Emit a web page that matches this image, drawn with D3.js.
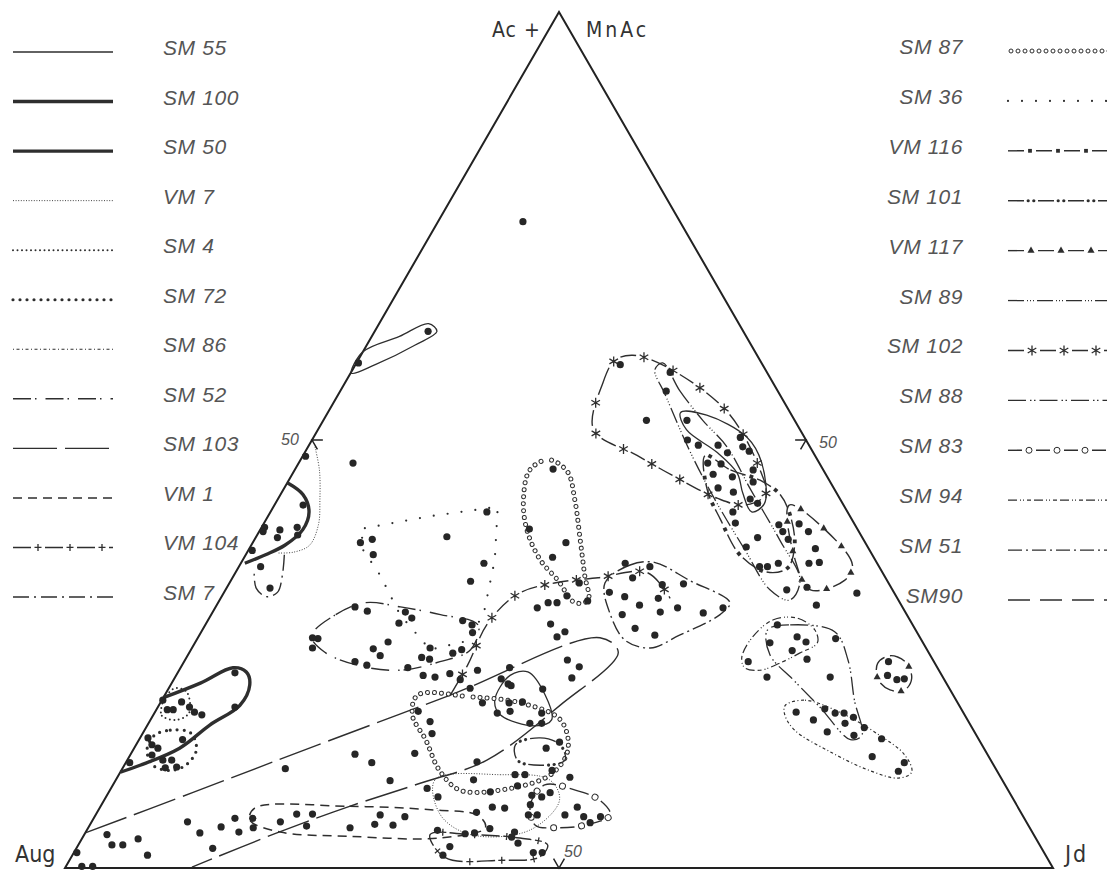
<!DOCTYPE html>
<html>
<head>
<meta charset="utf-8">
<script src="https://cdnjs.cloudflare.com/ajax/libs/d3/7.8.5/d3.min.js"></script>
<style>
  body { margin: 0; background: #fff; }
  text { font-family: "Liberation Sans", Arial, sans-serif; }
</style>
</head>
<body>
<div id="chart"></div>
<script>
var width = 1107,
    height = 871;

// legend, in reading order
var leftSamples = ["SM 55", "SM 100", "SM 50", "VM 7", "SM 4", "SM 72", "SM 86", "SM 52", "SM 103", "VM 1", "VM 104", "SM 7"];
var rightSamples = ["SM 87", "SM 36", "VM 116", "SM 101", "VM 117", "SM 89", "SM 102", "SM 88", "SM 83", "SM 94", "SM 51", "SM90"];

var apexLabel = ["Ac +", "MnAc"];
var leftCorner = "Aug", rightCorner = "Jd";
var tickValue = 50;

// analyses as [Ac+MnAc %, Jd %]  (Aug is the rest)
var analyses = [
  [75.5,8.6],
  [1.8,0.3],[0.2,1.6],[0.2,2.7],[3.9,2.3],[2.7,3.4],[2.7,4.5],[3.4,5.7],[1.5,7.6],
  [5.4,9.7],[4.1,11.6],[2.3,13.8],[4.8,13.4],[5.8,14.3],[4.2,15.5],[5.8,16.1],[4.7,16.7],
  [5.4,19.1],[6.3,20.3],[6.3,21.9],[4.9,22.0],[11.6,16.5],
  [22.8,5.8],[18.8,7.8],[17.9,4.9],[15.0,4.4],[19.6,0.1],[18.5,1.1],[18.5,1.7],[19.4,2.1],[18.8,3.2],[18.2,4.0],
  [15.2,0.8],[14.4,1.6],[13.2,2.2],[12.6,3.6],[12.6,4.5],[11.7,4.3],[11.8,5.4],[12.3,0.4],[14.0,2.4],
  [59.0,0.2],[62.7,5.4],[47.3,5.5],[48.1,0.3],[42.4,2.9],[39.5,2.0],[38.6,2.2],[39.8,3.6],[38.9,4.1],
  [39.8,0.3],[39.3,0.4],[35.2,2.2],[32.7,4.4],[37.1,0.4],
  [38.7,19.3],[38.4,11.9],[38.0,10.9],[36.6,12.9],[41.6,21.9],[35.6,24.6],[33.5,24.3],
  [26.8,12.2],[26.9,11.6],[25.7,12.2],[30.0,15.6],[30.5,14.1],[28.6,19.5],[29.9,19.5],[29.2,20.5],
  [26.4,19.5],[25.6,18.4],[24.8,19.5],[24.1,17.3],[23.7,18.7],[23.4,23.0],[24.6,23.8],[24.4,24.7],
  [25.7,24.1],[22.5,25.0],[22.3,26.3],[22.7,27.6],[25.1,26.7],[25.5,27.4],[28.9,25.8],[28.4,27.0],
  [27.5,27.5],[23.1,30.2],[21.0,30.5],[19.3,32.6],[22.0,29.0],
  [46.6,26.1],[39.6,27.2],[38.0,31.7],[36.3,31.2],[33.3,35.4],[31.2,37.3],[31.0,33.4],[31.0,34.3],
  [30.4,32.6],[31.8,34.9],[28.5,34.9],[27.0,36.3],[27.6,36.8],[24.3,38.7],[23.5,40.3],[23.4,33.3],
  [22.1,33.1],[21.3,34.5],[20.9,37.9],[22.2,40.2],[19.3,35.3],[19.4,36.6],[18.1,34.7],[18.3,35.9],[18.1,39.2],
  [21.5,34.1],[18.3,26.6],[17.1,28.4],[15.7,29.3],[13.3,22.7],[12.3,24.9],[13.4,28.7],[10.2,27.8],
  [9.3,32.0],[16.9,38.6],[16.9,39.8],[12.4,35.5],[10.9,40.1],[10.9,41.1],[10.3,36.2],[8.9,38.6],
  [9.6,41.0],[8.5,43.0],[8.3,44.1],[8.8,44.7],[11.4,43.6],[10.6,45.8],[14.7,42.7],[14.0,41.7],
  [8.3,33.6],[7.1,39.7],[7.0,41.0],[6.5,38.4],[7.4,43.4],[6.2,43.8],[6.2,44.7],[7.1,48.3],
  [6.2,47.5],[6.0,49.5],[6.0,51.2],[5.3,50.5],[6.2,28.8],[5.1,28.8],[5.0,30.7],[6.0,31.4],
  [4.7,26.5],[4.4,35.5],[4.0,38.5],[4.1,39.4],[4.6,40.7],[4.2,43.4],[2.5,37.7],[1.5,37.5],
  [2.9,44.4],[1.8,46.5],[1.8,47.4],[3.6,43.4],
  [58.8,26.8],[57.9,32.3],[55.7,33.0],[52.3,32.7],[52.3,36.8],[50.0,38.0],[49.4,39.4],[49.4,41.4],
  [50.3,43.2],[49.2,44.0],[48.7,44.9],[48.5,42.8],[47.3,41.4],[47.2,42.8],[46.0,42.6],[46.5,46.4],
  [45.1,47.1],[45.7,44.7],[44.4,43.9],[43.9,45.7],[43.1,47.8],[42.6,48.8],[41.6,46.8],[40.3,47.7],
  [38.6,50.8],[40.1,52.2],[39.3,53.0],[38.4,54.0],[40.2,54.2],[39.3,55.6],[37.3,57.3],[35.6,57.5],
  [35.7,58.5],[37.5,50.2],[35.2,52.7],[35.2,53.5],[35.6,54.4],[32.5,56.8],[32.8,58.7],
  [35.6,38.9],[35.2,41.6],[33.9,40.5],[33.1,43.9],[33.2,46.0],[31.5,44.3],[30.4,46.8],[31.7,40.8],
  [32.2,39.0],[29.6,41.6],[30.7,42.8],[29.9,45.3],[27.2,46.1],[28.0,43.7],
  [32.1,64.1],[30.7,60.7],[29.8,49.7],[30.4,51.4],[28.4,57.9],[27.0,60.6],[26.4,61.8],[25.4,60.9],
  [24.4,62.9],[26.3,58.2],[24.1,57.1],[22.3,59.9],[26.8,64.6],[22.3,66.3],[18.2,64.9],[17.3,67.1],
  [18.6,67.6],[18.1,68.9],[18.1,69.8],[16.9,70.5],[15.9,69.2],[17.6,71.0],[15.5,72.1],[16.4,72.7],
  [15.1,75.1],[13.0,75.2],[12.3,78.8],[11.3,78.7],[24.1,71.3],[22.5,72.0],[22.0,73.2],[22.1,73.9]
];

// field outlines, same [Ac+MnAc %, Jd %] pairs
var sm55Upper  = [[60.3,0.0],[62.1,2.8],[63.6,5.0],[62.7,6.3],[61.1,4.9],[58.8,2.0],[57.8,0.1]];
var sm55Right  = [[53.2,35.7],[52.9,38.5],[50.3,43.9],[47.4,46.8],[42.6,49.5],[41.6,48.7],[43.8,46.7],[46.1,45.0],[48.5,41.8],[51.2,37.3]];
var sm55Lower  = [[19.6,33.7],[22.5,33.8],[22.9,35.4],[20.2,38.5],[17.3,40.6],[16.6,39.3],[17.9,35.1]];
var sm100Field = [[19.9,0],[21.6,2.9],[23.4,5.3],[22.9,6.9],[21.4,8.0],[19.0,8.2],[16.7,6.3],[14.0,4.6],[12.0,1.6],[11.2,0]];
var sm50Field  = [[45.0,0],[43.6,2.3],[41.6,3.9],[39.5,4.3],[37.7,3.4],[36.6,2.0],[35.6,0.4]];
var vm7Upper   = [[49.2,0.7],[46.5,2.5],[43.0,4.3],[40.1,5.6],[37.7,5.9],[36.9,4.7],[36.8,3.2]];
var vm7Lower   = [[10.3,32.3],[10.9,38.6],[10.3,43.9],[7.9,46.1],[4.4,44.8],[3.9,39.1],[6.2,34.9]];
var sm7Field   = [[36.6,3.9],[34.2,4.9],[32.2,5.4],[31.7,4.5],[32.7,3.0],[34.5,1.9]];
var sm4Field   = [[19.0,0.3],[17.8,0.9],[17.3,2.6],[18.1,3.5],[20.6,2.0],[21.0,0.6],[20.0,0.2]];
var sm72Field  = [[15.5,1.3],[16.1,2.6],[15.8,4.8],[13.8,6.4],[12.0,6.2],[11.4,4.9],[12.0,2.9],[13.8,1.4]];
var sm103Field = [[4.1,0],[8.8,8.5],[13.6,17.0],[20.2,28.9],[26.9,40.7],[25.2,43.4],[19.0,40.6],[12.6,36.4],[9.9,31.0],[7.2,25.2],[4.1,19.4],[0.1,12.8]];
var vm1Field   = [[7.0,15.7],[7.2,25.2],[6.8,33.6],[6.1,38.8],[4.7,40.2],[3.5,36.2],[3.7,27.0],[4.2,19.7],[5.6,15.9]];
var sm52Field  = [[27.1,11.4],[29.6,12.6],[31.0,14.9],[30.5,18.7],[29.6,23.2],[28.4,27.6],[25.5,28.3],[24.1,25.9],[23.1,22.3],[23.6,18.1],[25.2,13.7]];
var sm36Field  = [[39.7,10.5],[41.1,16.4],[42.2,22.7],[36.0,25.5],[30.1,27.4],[26.6,27.7],[25.5,24.2],[29.6,19.1],[34.2,14.8],[37.7,11.0]];
var sm87Upper  = [[46.5,23.8],[47.7,25.1],[46.3,27.7],[43.0,30.1],[38.3,33.0],[34.2,35.5],[31.3,37.3],[31.0,36.1],[33.6,33.1],[36.0,30.1],[39.5,27.0],[43.0,24.9]];
var sm87Lower  = [[20.2,25.6],[20.0,31.0],[19.3,36.4],[17.3,41.5],[13.8,44.0],[10.9,43.7],[9.1,39.5],[9.1,35.4],[11.4,32.2],[15.0,29.0],[17.9,26.2]];
var sm102Upper = [[51.2,27.9],[56.7,26.1],[59.3,26.0],[59.9,27.5],[58.5,31.7],[53.2,40.5],[46.5,47.1],[43.6,49.1],[42.4,47.6],[43.2,44.4],[45.6,39.1],[48.2,33.8]];
var sm102Lower = [[20.2,28.9],[23.7,28.9],[28.6,28.5],[32.0,29.8],[33.3,32.9],[33.9,37.0],[34.5,41.7],[31.5,45.5]];
var sm89Field  = [[59.0,31.0],[55.8,34.3],[52.3,38.4],[49.2,42.4],[44.2,47.3],[38.3,53.2],[33.6,57.6],[31.3,57.7],[32.5,55.1],[37.1,50.3],[43.0,44.3],[48.8,38.8],[55.3,33.1],[58.2,30.6]];
var vm116Field = [[48.2,40.7],[46.5,44.1],[45.3,47.7],[43.6,50.6],[41.2,52.8],[37.7,55.0],[35.0,55.6],[34.6,53.6],[36.6,50.0],[40.7,46.0],[44.2,42.9]];
var vm117Upper = [[42.4,52.1],[39.5,57.2],[35.4,62.0],[33.6,62.1],[32.5,59.2],[36.0,55.9]];
var vm117Lower = [[23.9,70.3],[24.8,71.1],[24.1,73.0],[22.2,74.6],[20.8,74.6],[20.8,73.1],[22.0,71.3]];
var sm51Field  = [[33.3,38.0],[35.4,39.5],[35.7,41.8],[33.6,46.4],[31.0,51.8],[29.6,51.5],[27.2,48.6],[25.7,46.4],[26.6,43.4],[29.6,40.4]];
var sm94Field  = [[24.6,56.2],[27.0,56.1],[29.0,57.2],[29.2,59.5],[27.8,62.0],[26.3,63.0],[25.1,61.8],[24.1,60.6],[23.1,58.8],[23.4,57.1]];
var sm88Field  = [[27.8,57.2],[28.4,59.2],[27.6,64.1],[24.3,67.1],[19.6,70.1],[15.5,72.9],[15.0,72.0],[18.8,67.0],[22.0,62.7],[24.9,58.9]];
var sm86Field  = [[19.0,63.4],[19.6,65.1],[18.2,69.3],[15.5,74.7],[13.2,78.4],[11.2,80.1],[10.5,79.1],[11.4,75.7],[13.6,70.6],[16.1,65.8],[17.9,63.9]];
var sm83Field  = [[9.7,43.7],[9.1,47.1],[7.9,50.2],[6.2,52.1],[5.0,50.1],[4.7,47.3],[5.0,45.1],[7.4,43.4]];
var vm104Field = [[3.9,35.0],[1.2,37.9],[0.9,43.6],[1.3,47.4],[2.7,47.5],[3.5,44.3],[3.9,39.1]];
var sm101Field = [[14.4,38.4],[15.2,40.5],[14.4,42.9],[12.6,44.3],[12.0,42.1],[12.6,39.5]];

var fields = [
  {s: "SM 103", pts: sm103Field, closed: false},
  {s: "VM 1",   pts: vm1Field,   closed: true},
  {s: "SM 55",  pts: sm55Upper,  closed: true},
  {s: "SM 55",  pts: sm55Right,  closed: true},
  {s: "SM 55",  pts: sm55Lower,  closed: true},
  {s: "SM 100", pts: sm100Field, closed: false},
  {s: "SM 50",  pts: sm50Field,  closed: false},
  {s: "VM 7",   pts: vm7Upper,   closed: false},
  {s: "VM 7",   pts: vm7Lower,   closed: true},
  {s: "SM 7",   pts: sm7Field,   closed: false},
  {s: "SM 4",   pts: sm4Field,   closed: true},
  {s: "SM 72",  pts: sm72Field,  closed: true},
  {s: "SM 52",  pts: sm52Field,  closed: true},
  {s: "SM 36",  pts: sm36Field,  closed: true, straight: true},
  {s: "SM 87",  pts: sm87Upper,  closed: true},
  {s: "SM 87",  pts: sm87Lower,  closed: true},
  {s: "SM 102", pts: sm102Upper, closed: true},
  {s: "SM 102", pts: sm102Lower, closed: false},
  {s: "SM 89",  pts: sm89Field,  closed: true},
  {s: "VM 116", pts: vm116Field, closed: true},
  {s: "VM 117", pts: vm117Upper, closed: true},
  {s: "VM 117", pts: vm117Lower, closed: true},
  {s: "SM 51",  pts: sm51Field,  closed: true},
  {s: "SM 94",  pts: sm94Field,  closed: true},
  {s: "SM 88",  pts: sm88Field,  closed: true},
  {s: "SM 86",  pts: sm86Field,  closed: true},
  {s: "SM 83",  pts: sm83Field,  closed: true},
  {s: "VM 104", pts: vm104Field, closed: true},
  {s: "SM 101", pts: sm101Field, closed: true}
];

// how each sample's outline is drawn
var lineStyle = {
  "SM 55":  {w: 1.3},
  "SM 100": {w: 3.4},
  "SM 50":  {w: 3.4},
  "VM 7":   {w: 0.9, dash: "1 1.6"},
  "SM 4":   {w: 2, dash: "0 4.5", round: true},
  "SM 72":  {w: 3.2, dash: "0 7", round: true},
  "SM 86":  {w: 1.2, dash: "1 2.5 3 2.5"},
  "SM 52":  {w: 1.4, dash: "18 4 1.5 9"},
  "SM 103": {w: 1.4, dash: "44 8"},
  "VM 1":   {w: 1.5, dash: "9 6"},
  "VM 104": {w: 1.4, dash: "18 14", mark: "plus", step: 32, at: 25},
  "SM 7":   {w: 1.4, dash: "16 5 2 5"},
  "SM 87":  {w: 0, mark: "ring", step: 7, at: 3, r: 2},
  "SM 36":  {w: 2.2, dash: "0 14", round: true},
  "VM 116": {w: 1.4, dash: "16 12", mark: "square", step: 28, at: 22},
  "SM 101": {w: 1.4, dash: "16 14", mark: "pair", step: 30, at: 23},
  "VM 117": {w: 1.4, dash: "16 14", mark: "tri", step: 30, at: 23},
  "SM 89":  {w: 1.3, dash: "16 3 1 2 1 2 1 3"},
  "SM 102": {w: 1.4, dash: "16 16", mark: "star", step: 32, at: 24},
  "SM 88":  {w: 1.3, dash: "18 4 1.5 2.5 1.5 4"},
  "SM 83":  {w: 1.4, dash: "14 14", mark: "ring", step: 28, at: 21, r: 3},
  "SM 94":  {w: 1.2, dash: "9 3 1 2 1 3 4 3"},
  "SM 51":  {w: 1.4, dash: "14 4 2 4"},
  "SM90":   {w: 1.5, dash: "22 10"}
};

var ink = "#2e2e2e";

var svg = d3.select("#chart")
  .append("svg")
  .attr("width", width)
  .attr("height", height)
  .style("background", "#fff");

// ternary -> screen : x from Jd + Ac/2, y from Ac
var x = d3.scaleLinear().domain([0, 100]).range([65, 1053]);
var y = d3.scaleLinear().domain([0, 100]).range([868, 12]);
function px(d) { return x(d[1] + d[0] / 2); }
function py(d) { return y(d[0]); }

var tern = d3.line().x(px).y(py);

// triangle
svg.append("path")
  .attr("d", tern([[0, 0], [0, 100], [100, 0]]) + "Z")
  .attr("fill", "none")
  .attr("stroke", "#222")
  .attr("stroke-width", 2);

// 50 % ticks on each side
var ticks = [
  {p: [tickValue, 0], a: [tickValue, 1.1], b: [tickValue - 1.1, 1.1], dx: -22, dy: 5},
  {p: [tickValue, 100 - tickValue], a: [tickValue, 100 - tickValue - 1.1], b: [tickValue - 1.1, 100 - tickValue], dx: 22, dy: 8},
  {p: [0, tickValue], a: [1.1, tickValue - 1.1], b: [1.1, tickValue], dx: 14, dy: -11}
];
ticks.forEach(function(t) {
  svg.append("path")
    .attr("d", tern([t.a, t.p, t.b]))
    .attr("fill", "none")
    .attr("stroke", "#222")
    .attr("stroke-width", 1.5);
  svg.append("text")
    .attr("x", px(t.p) + t.dx)
    .attr("y", py(t.p) + t.dy)
    .attr("text-anchor", "middle")
    .attr("font-size", 16)
    .attr("font-style", "italic")
    .attr("fill", "#555")
    .text(tickValue);
});

function styled(path, st) {
  path.attr("fill", "none")
    .attr("stroke", st.w ? ink : "none")
    .attr("stroke-width", st.w || 0)
    .attr("stroke-dasharray", st.dash || null)
    .attr("stroke-linecap", st.round ? "round" : "butt");
}

function drawMark(g, st, cx, cy, ang) {
  var m = g.append("g").attr("transform", "translate(" + cx + "," + cy + ") rotate(" + ang + ")");
  if (st.mark == "ring") {
    m.append("circle").attr("r", st.r).attr("fill", "#fff").attr("stroke", ink).attr("stroke-width", 1);
  } else if (st.mark == "plus") {
    m.append("path").attr("d", "M-3.5,0H3.5M0,-3.5V3.5").attr("stroke", ink).attr("stroke-width", 1.3);
  } else if (st.mark == "square") {
    m.append("rect").attr("x", -1.9).attr("y", -1.9).attr("width", 3.8).attr("height", 3.8).attr("fill", ink);
  } else if (st.mark == "pair") {
    m.append("circle").attr("cx", -2.8).attr("r", 1.6).attr("fill", ink);
    m.append("circle").attr("cx", 2.8).attr("r", 1.6).attr("fill", ink);
  } else if (st.mark == "tri") {
    m.attr("transform", "translate(" + cx + "," + cy + ")");
    m.append("path").attr("d", d3.symbol().type(d3.symbolTriangle).size(22)()).attr("fill", ink);
  } else if (st.mark == "star") {
    m.attr("transform", "translate(" + cx + "," + cy + ")");
    m.append("path").attr("d", "M0,-5V5M-4.3,-2.5L4.3,2.5M-4.3,2.5L4.3,-2.5").attr("stroke", ink).attr("stroke-width", 1.3);
  }
}

function addMarks(g, node, st) {
  if (!st.mark) return;
  var len = node.getTotalLength();
  for (var s = st.at; s < len - 2; s += st.step) {
    var p = node.getPointAtLength(s),
        q = node.getPointAtLength(Math.min(len, s + 1));
    var ang = Math.atan2(q.y - p.y, q.x - p.x) * 180 / Math.PI;
    drawMark(g, st, p.x, p.y, ang);
  }
}

// field outlines
var fieldLayer = svg.append("g");
fields.forEach(function(f) {
  var st = lineStyle[f.s];
  var curve = f.straight ? d3.curveLinearClosed
    : (f.closed ? d3.curveCatmullRomClosed.alpha(0.5) : d3.curveCatmullRom.alpha(0.5));
  var gen = d3.line().x(px).y(py).curve(curve);
  var path = fieldLayer.append("path").attr("d", gen(f.pts));
  styled(path, st);
  addMarks(fieldLayer, path.node(), st);
});

// analyses
svg.append("g")
  .selectAll("circle")
  .data(analyses)
  .enter().append("circle")
  .attr("cx", px)
  .attr("cy", py)
  .attr("r", 3.6)
  .attr("fill", "#262626");

// legends
var rowL = d3.scalePoint().domain(leftSamples).range([52, 597]);
var rowR = d3.scalePoint().domain(rightSamples).range([51, 600]);

function legendRow(name, yy, x1, x2, tx, anchor) {
  var st = lineStyle[name];
  var path = svg.append("path").attr("d", "M" + x1 + "," + yy + "H" + x2);
  styled(path, st);
  addMarks(svg, path.node(), st);
  svg.append("text")
    .attr("x", tx)
    .attr("y", yy + 3)
    .attr("text-anchor", anchor)
    .attr("font-size", 21)
    .attr("font-style", "italic")
    .attr("letter-spacing", 0.6)
    .attr("fill", "#555")
    .text(name);
}
leftSamples.forEach(function(n) { legendRow(n, rowL(n), 13, 113, 163, "start"); });
rightSamples.forEach(function(n) { legendRow(n, rowR(n), 1008, 1112, 963, "end"); });

// corner labels
var cornerFont = "'DejaVu Sans Condensed', 'Liberation Sans Narrow', sans-serif";
function cornerText(t, xx, yy, size, anchor, ls) {
  return svg.append("text")
    .attr("x", xx).attr("y", yy)
    .attr("font-size", size)
    .attr("text-anchor", anchor)
    .attr("letter-spacing", ls)
    .style("font-family", cornerFont)
    .attr("fill", "#333")
    .text(t);
}
cornerText(apexLabel[0], px([100, 0]) - 67, py([100, 0]) + 25, 21, "start", 1);
cornerText(apexLabel[1], px([100, 0]) + 27, py([100, 0]) + 25, 21, "start", 3);
cornerText(leftCorner, px([0, 0]) - 50, py([0, 0]) - 6, 23, "start", 0);
cornerText(rightCorner, px([0, 100]) + 12, py([0, 100]) - 6, 23, "start", 2);
</script>
</body>
</html>
